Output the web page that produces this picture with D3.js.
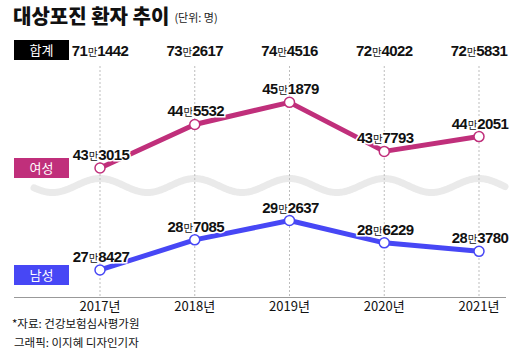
<!DOCTYPE html>
<html>
<head>
<meta charset="utf-8">
<script src="https://cdn.jsdelivr.net/npm/d3@7"></script>
<style>
  body { margin: 0; background: #fff; }
  svg { display: block; }
  .kr { font-family: "Noto Sans CJK KR", "Noto Sans", sans-serif; }
  .num { font-family: "Liberation Sans", Arial, sans-serif; font-weight: bold; letter-spacing: -0.6px; }
</style>
</head>
<body>
<div id="chart"></div>
<script>
// data
var years = ["2017년", "2018년", "2019년", "2020년", "2021년"];
var total = [711442, 732617, 744516, 724022, 725831];
var female = [433015, 445532, 451879, 437793, 442051];
var male = [278427, 287085, 292637, 286229, 283780];

var width = 520, height = 363;
var pink = "#c02f7b", blue = "#4747f5";

var svg = d3.select("#chart").append("svg")
    .attr("width", width)
    .attr("height", height);

var x = d3.scaleLinear().domain([0, years.length - 1]).range([100, 479]);
// broken axis: same px per person on both halves
var yF = d3.scaleLinear().domain([430000, 460000]).range([178.5, 74.1]);
var yM = d3.scaleLinear().domain([270000, 300000]).range([299.3, 194.9]);

// title
var title = svg.append("text").attr("class", "kr")
    .attr("x", 13).attr("y", 24);
title.append("tspan").attr("font-size", 20).attr("font-weight", 900).attr("fill", "#111")
    .text("대상포진 환자 추이");
title.append("tspan").attr("font-size", 11).attr("dx", 5).attr("dy", -2).attr("fill", "#222")
    .text("(단위: 명)");

// wave separating the two halves
var wave = d3.range(34, 506, 1).map(function(px) {
  return [px, 185.5 - 7 * Math.cos(2 * Math.PI * (px - x(0)) / (x(1) - x(0)))];
});
svg.append("path")
    .attr("d", d3.line()(wave))
    .attr("fill", "none")
    .attr("stroke", "#eaeaea")
    .attr("stroke-width", 7)
    .attr("stroke-linecap", "round");

// dotted grid
svg.selectAll(".grid").data(years).enter().append("line")
    .attr("class", "grid")
    .attr("x1", function(d, i) { return x(i); })
    .attr("x2", function(d, i) { return x(i); })
    .attr("y1", 66).attr("y2", 297)
    .attr("stroke", "#bdbdbd")
    .attr("stroke-width", 1)
    .attr("stroke-dasharray", "2,2");

// baseline axis
svg.append("line")
    .attr("x1", 14).attr("x2", 506)
    .attr("y1", 297.5).attr("y2", 297.5)
    .attr("stroke", "#999").attr("stroke-width", 1);

svg.selectAll(".year").data(years).enter().append("text")
    .attr("class", "year kr")
    .attr("x", function(d, i) { return x(i); })
    .attr("y", 311)
    .attr("text-anchor", "middle")
    .attr("font-size", 13)
    .attr("fill", "#111")
    .text(function(d) { return d; });

function fmt(sel) {
  sel.append("tspan").text(function(d) { return Math.floor(d / 10000); });
  sel.append("tspan").attr("class", "kr").attr("font-size", 10.5).attr("font-weight", "normal")
      .attr("dx", 0.5).text("만");
  sel.append("tspan").attr("dx", 0.5).text(function(d) { return ("000" + (d % 10000)).slice(-4); });
}

// labels boxes
function tag(label, y, color) {
  svg.append("rect").attr("x", 14).attr("y", y).attr("width", 55).attr("height", 20).attr("fill", color);
  svg.append("text").attr("class", "kr")
      .attr("x", 41.5).attr("y", y + 15)
      .attr("text-anchor", "middle")
      .attr("font-size", 13)
      .attr("fill", "#fff")
      .text(label);
}
tag("합계", 40, "#000");
tag("여성", 158, pink);
tag("남성", 265, blue);

// totals row
svg.selectAll(".total").data(total).enter().append("text")
    .attr("class", "total num")
    .attr("x", function(d, i) { return x(i); })
    .attr("y", 56)
    .attr("text-anchor", "middle")
    .attr("font-size", 15)
    .attr("fill", "#111")
    .call(fmt);

function series(data, y, color) {
  svg.append("path")
      .datum(data)
      .attr("d", d3.line().x(function(d, i) { return x(i); }).y(function(d) { return y(d); }))
      .attr("fill", "none")
      .attr("stroke", color)
      .attr("stroke-width", 5)
      .attr("stroke-linejoin", "round");

  var g = svg.append("g");
  g.selectAll("circle").data(data).enter().append("circle")
      .attr("cx", function(d, i) { return x(i); })
      .attr("cy", function(d) { return y(d); })
      .attr("r", 5)
      .attr("fill", "#fff")
      .attr("stroke", color)
      .attr("stroke-width", 1.5);

  g.selectAll("text").data(data).enter().append("text")
      .attr("class", "num")
      .attr("x", function(d, i) { return x(i) + 1; })
      .attr("y", function(d) { return y(d) - 8; })
      .attr("text-anchor", "middle")
      .attr("font-size", 15)
      .attr("fill", "#111")
      .attr("stroke", "#fff")
      .attr("stroke-width", 3)
      .attr("paint-order", "stroke")
      .call(fmt);
}
series(female, yF, pink);
series(male, yM, blue);

// source
svg.append("text").attr("class", "kr")
    .attr("x", 12).attr("y", 328)
    .attr("font-size", 11.5).attr("fill", "#111")
    .text("*자료: 건강보험심사평가원");
svg.append("text").attr("class", "kr")
    .attr("x", 14).attr("y", 347)
    .attr("font-size", 11.5).attr("fill", "#111")
    .text("그래픽: 이지혜 디자인기자");
</script>
</body>
</html>
